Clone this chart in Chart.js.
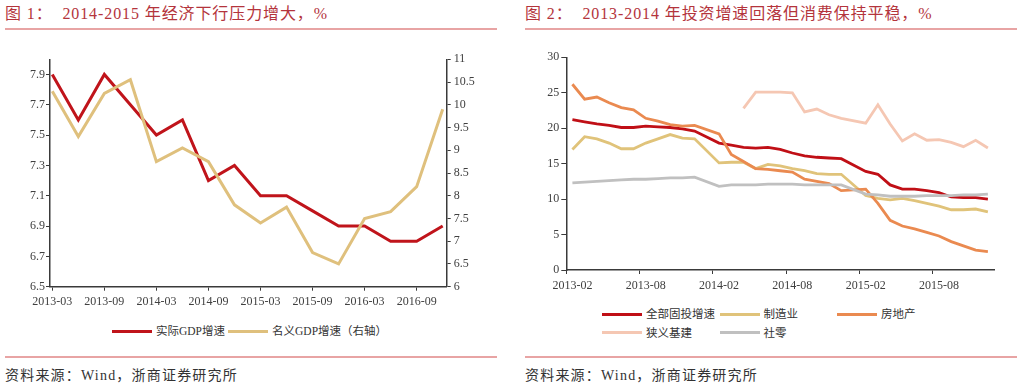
<!DOCTYPE html>
<html>
<head>
<meta charset="utf-8">
<script src="https://cdn.jsdelivr.net/npm/chart.js@4.4.1/dist/chart.umd.min.js"></script>
<style>
body{margin:0;width:1024px;height:386px;background:#fff;position:relative;overflow:hidden;font-family:"Liberation Serif","Noto Sans CJK SC",serif;}
.title{position:absolute;top:3px;font-size:16px;line-height:22px;color:#b4343c;white-space:nowrap;letter-spacing:0.9px;}
.rule{position:absolute;height:2px;background:#e8a4a4;}
.src{position:absolute;top:366px;font-size:14px;line-height:20px;color:#333;white-space:nowrap;letter-spacing:1.2px;}
.box{position:absolute;}
.leg{position:absolute;font-size:11.5px;line-height:18px;color:#333;white-space:nowrap;}
.leg .item{display:flex;align-items:center;}
.leg .swatch{display:inline-block;width:40px;height:3px;margin-right:4px;}
#leg1{left:112px;top:322px;display:flex;}
#leg1 .item{margin-right:3px;}
#leg2{left:602px;top:305px;display:grid;grid-template-columns:repeat(3,117.5px);grid-auto-rows:18.5px;}
</style>
</head>
<body>
<div class="title" style="left:5px;">图 1：&nbsp; 2014-2015 年经济下行压力增大，%</div>
<div class="rule" style="left:5px;width:492px;top:28px;"></div>
<div class="title" style="left:525px;">图 2：&nbsp; 2013-2014 年投资增速回落但消费保持平稳，%</div>
<div class="rule" style="left:525px;width:492px;top:28px;"></div>

<div class="box" style="left:0;top:40px;"><canvas id="c1" width="512" height="270"></canvas></div>
<div class="box" style="left:512px;top:40px;"><canvas id="c2" width="512" height="260"></canvas></div>

<div class="leg" id="leg1"></div>
<div class="leg" id="leg2"></div>

<div class="rule" style="left:5px;width:492px;top:356px;"></div>
<div class="rule" style="left:525px;width:492px;top:356px;"></div>
<div class="src" style="left:5px;">资料来源：Wind，浙商证券研究所</div>
<div class="src" style="left:525px;">资料来源：Wind，浙商证券研究所</div>

<script>
// 图1 GDP 季度
const gdpQuarters = ['2013-03','2013-06','2013-09','2013-12','2014-03','2014-06','2014-09','2014-12',
                     '2015-03','2015-06','2015-09','2015-12','2016-03','2016-06','2016-09','2016-12'];
const gdpTickLabels = ['2013-03','2013-09','2014-03','2014-09','2015-03','2015-09','2016-03','2016-09'];
const realGdp    = [7.9,7.6,7.9,7.7,7.5,7.6,7.2,7.3,7.1,7.1,7.0,6.9,6.9,6.8,6.8,6.9];
const nominalGdp = [10.3,9.3,10.25,10.55,8.75,9.05,8.75,7.8,7.4,7.75,6.75,6.5,7.5,7.65,8.2,9.9];
const leftTicks  = [6.5,6.7,6.9,7.1,7.3,7.5,7.7,7.9];
const rightTicks = [6,6.5,7,7.5,8,8.5,9,9.5,10,10.5,11];

// 图2 月度累计同比
const months = ['2013-02','2013-03','2013-04','2013-05','2013-06','2013-07','2013-08','2013-09','2013-10','2013-11','2013-12',
                '2014-01','2014-02','2014-03','2014-04','2014-05','2014-06','2014-07','2014-08','2014-09','2014-10','2014-11','2014-12',
                '2015-01','2015-02','2015-03','2015-04','2015-05','2015-06','2015-07','2015-08','2015-09','2015-10','2015-11','2015-12'];
const monthTickLabels = ['2013-02','2013-08','2014-02','2014-08','2015-02','2015-08'];
const faiTicks = [0,5,10,15,20,25,30];
const faiTotal = [21.2,20.9,20.6,20.4,20.1,20.1,20.3,20.2,20.1,19.9,19.6,null,
                  17.9,17.6,17.3,17.2,17.3,17.0,16.5,16.1,15.9,15.8,15.7,null,
                  13.9,13.5,12.0,11.4,11.4,11.2,10.9,10.3,10.2,10.2,10.0];
const manufacturing = [17.0,18.8,18.5,17.9,17.1,17.1,17.9,18.5,19.1,18.6,18.5,null,
                       15.1,15.2,15.2,14.3,14.9,14.7,14.3,14.0,13.6,13.5,13.5,null,
                       10.5,10.1,9.9,10.1,9.8,9.4,9.0,8.5,8.5,8.6,8.2];
const realEstate = [26.2,24.1,24.4,23.6,22.9,22.6,21.4,21.0,20.5,20.3,20.4,null,
                    19.2,16.3,15.3,14.3,14.2,14.0,13.8,12.8,12.5,12.2,11.2,null,
                    11.4,9.4,7.0,6.2,5.8,5.3,4.8,4.0,3.4,2.8,2.6];
const infra = [null,null,null,null,null,null,null,null,null,null,null,null,
               null,null,22.8,25.1,25.1,25.1,25.0,22.3,22.7,21.9,21.4,null,
               20.7,23.3,20.6,18.2,19.2,18.3,18.4,18.0,17.4,18.3,17.2];
const retail = [12.3,12.4,12.5,12.6,12.7,12.8,12.8,12.9,13.0,13.0,13.1,null,
                11.8,12.0,12.0,12.0,12.1,12.1,12.1,12.0,12.0,12.0,12.0,null,
                10.7,10.6,10.4,10.4,10.4,10.5,10.5,10.5,10.6,10.6,10.7];

const axisColor = '#3a3a3a';
const textColor = '#404040';

Chart.defaults.font.family = '"Liberation Serif","Noto Sans CJK SC",serif';
Chart.defaults.font.size = 12;
Chart.defaults.color = textColor;

function setTicks(list){ return function(s){ s.ticks = list.map(v => ({value: v})); }; }
function fixW(w){ return function(s){ s.width = w; }; }
function fixH(h){ return function(s){ s.height = h; }; }

const chart1 = new Chart(document.getElementById('c1'), {
    type: 'line',
    data: {
        datasets: [
            {label: '实际GDP增速', data: realGdp.map((v, i) => ({x: i, y: v})),
             borderColor: '#c0141b', yAxisID: 'y', order: 1},
            {label: '名义GDP增速（右轴）', data: nominalGdp.map((v, i) => ({x: i, y: v})),
             borderColor: '#dfc07d', yAxisID: 'y1', order: 0}
        ]
    },
    options: {
        responsive: false,
        animation: false,
        layout: {padding: {top: 19.3, left: 0, right: 0, bottom: 0}},
        plugins: {legend: {display: false}, tooltip: {enabled: false}},
        elements: {point: {radius: 0}, line: {borderWidth: 3, tension: 0}},
        scales: {
            x: {
                type: 'linear', min: -0.088, max: 15.154,
                afterBuildTicks: setTicks(gdpTickLabels.map(l => gdpQuarters.indexOf(l))),
                afterFit: fixH(23.3),
                grid: {drawOnChartArea: false, tickLength: 4, tickColor: axisColor},
                border: {color: axisColor, width: 1.5},
                ticks: {autoSkip: false, maxRotation: 0, padding: 4, callback: v => gdpQuarters[v]}
            },
            y: {
                position: 'left', min: 6.5, max: 8.0,
                afterBuildTicks: setTicks(leftTicks),
                afterFit: fixW(50),
                grid: {drawOnChartArea: false, tickLength: 4, tickColor: axisColor},
                border: {color: axisColor, width: 1.5},
                ticks: {padding: 1, callback: v => v.toFixed(1)}
            },
            y1: {
                position: 'right', min: 6, max: 11,
                afterBuildTicks: setTicks(rightTicks),
                afterFit: fixW(65.3),
                grid: {drawOnChartArea: false, tickLength: 4, tickColor: axisColor},
                border: {color: axisColor, width: 1.5},
                ticks: {padding: 3, callback: v => String(v)}
            }
        }
    }
});

const chart2 = new Chart(document.getElementById('c2'), {
    type: 'line',
    data: {
        labels: months,
        datasets: [
            {label: '全部固投增速', data: faiTotal,      borderColor: '#c00f16', order: 4},
            {label: '制造业',       data: manufacturing, borderColor: '#e0c37a', order: 3},
            {label: '房地产',       data: realEstate,    borderColor: '#ea8a50', order: 2},
            {label: '狭义基建',     data: infra,         borderColor: '#f5c7b3', order: 1},
            {label: '社零',         data: retail,        borderColor: '#c0c0c0', order: 0}
        ]
    },
    options: {
        responsive: false,
        animation: false,
        spanGaps: true,
        layout: {padding: {top: 17.3, left: 0, right: 30, bottom: 0}},
        plugins: {legend: {display: false}, tooltip: {enabled: false}},
        elements: {point: {radius: 0}, line: {borderWidth: 2.8, tension: 0}},
        scales: {
            x: {
                type: 'category', offset: true,
                afterFit: fixH(30),
                grid: {
                    offset: true, drawOnChartArea: false, tickLength: 4,
                    tickColor: ctx => (ctx.tick && monthTickLabels.includes(months[ctx.index])) ? axisColor : 'rgba(0,0,0,0)'
                },
                border: {color: axisColor, width: 1.5},
                ticks: {
                    autoSkip: false, maxRotation: 0, padding: 5,
                    callback: (v, i) => monthTickLabels.includes(months[i]) ? months[i] : ''
                }
            },
            y: {
                position: 'left', min: 0, max: 30,
                afterBuildTicks: setTicks(faiTicks),
                afterFit: fixW(54.3),
                grid: {drawOnChartArea: false, tickLength: 5, tickColor: axisColor},
                border: {color: axisColor, width: 1.5},
                ticks: {padding: 2}
            }
        }
    }
});

// 图例
function buildLegend(chart, el){
    chart.data.datasets.forEach(ds => {
        let item = document.createElement('div');
        item.className = 'item';
        let sw = document.createElement('span');
        sw.className = 'swatch';
        sw.style.background = ds.borderColor;
        let tx = document.createElement('span');
        tx.textContent = ds.label;
        item.appendChild(sw);
        item.appendChild(tx);
        el.appendChild(item);
    });
}
buildLegend(chart1, document.getElementById('leg1'));
buildLegend(chart2, document.getElementById('leg2'));
</script>
</body>
</html>
